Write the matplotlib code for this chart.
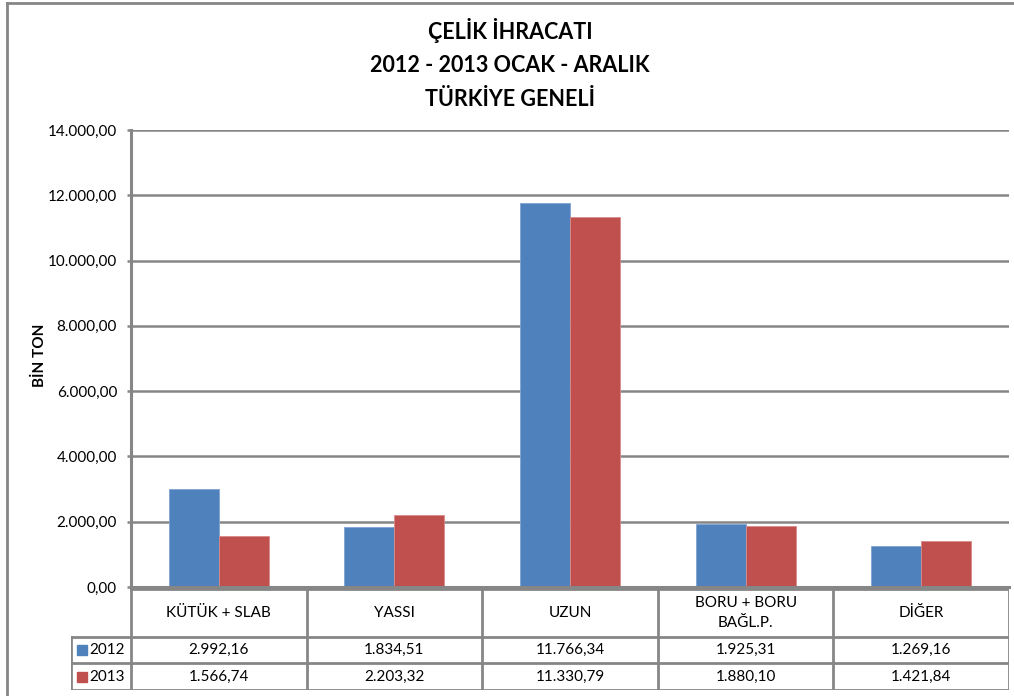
import numpy as np
import matplotlib
matplotlib.use("Agg")
import matplotlib.pyplot as plt
from matplotlib.ticker import FuncFormatter, MultipleLocator

plt.rcParams['font.family'] = ['Lato', 'DejaVu Sans']

categories = ["KÜTÜK + SLAB", "YASSI", "UZUN", "BORU + BORU\nBAĞL.P.", "DİĞER"]
series_names = ["2012", "2013"]
values_2012 = [2992.16, 1834.51, 11766.34, 1925.31, 1269.16]
values_2013 = [1566.74, 2203.32, 11330.79, 1880.10, 1421.84]
colors = ["#4F81BD", "#C0504D"]

title = "ÇELİK İHRACATI\n2012 - 2013 OCAK - ARALIK\nTÜRKİYE GENELİ"
ylabel = "BİN TON"

W, H = 1014, 696
grey = "#868686"
fs = 11


def tr_fmt(v, pos=None):
    s = f"{v:,.2f}"
    return s.replace(",", "X").replace(".", ",").replace("X", ".")


def fx(px):
    return px / W


def fy(py):
    return 1 - py / H


fig = plt.figure(figsize=(W / 100, H / 100), dpi=100)

# outer chart border (left and top visible)
fig.add_artist(plt.Line2D([fx(7), fx(7)], [fy(3), fy(H)], color=grey, lw=2))
fig.add_artist(plt.Line2D([fx(7), fx(W)], [fy(3), fy(3)], color=grey, lw=2))

# plot area
x0, x1, y0, y1 = 131, 1009, 130, 587
ax = fig.add_axes([fx(x0), fy(y1), fx(x1 - x0), fy(y0) - fy(y1)])
n = len(categories)
x = np.arange(n)
bw = 50 / 175.6
ax.bar(x - bw / 2, values_2012, bw, color=colors[0], edgecolor="#7FA3D0", lw=0.6, zorder=3)
ax.bar(x + bw / 2, values_2013, bw, color=colors[1], edgecolor="#D98B89", lw=0.6, zorder=3)
ax.set_xlim(-0.5, n - 0.5)
ax.set_ylim(0, 14000)
ax.yaxis.set_major_locator(MultipleLocator(2000))
ax.yaxis.set_major_formatter(FuncFormatter(tr_fmt))
ax.grid(axis='y', color=grey, lw=1.8, zorder=0)
ax.set_xticks([])
for s in ["top", "right"]:
    ax.spines[s].set_visible(False)
for s in ["left", "bottom"]:
    ax.spines[s].set_color(grey)
    ax.spines[s].set_linewidth(2.2)
    ax.spines[s].set_zorder(4)
ax.tick_params(axis='y', colors=grey, length=3, width=1.8, labelsize=fs,
               labelcolor="black", pad=7)

fig.text(fx(40), fy(355), ylabel, rotation=90, ha='center', va='center',
         fontsize=fs, fontweight='bold')
fig.text(0.503, fy(64), title, ha='center', va='center', fontsize=15.5,
         fontweight='bold', linespacing=1.75)

# data table below the plot
tx0, ty0, ty1 = 71, 589, 690
tax = fig.add_axes([fx(tx0), fy(ty1), fx(x1 - tx0), fy(ty0) - fy(ty1)])
left = -0.5 - (x0 - tx0) / 175.6
tax.set_xlim(left, n - 0.5)
tax.set_ylim(ty1, ty0)
tax.axis('off')
rows = [ty0, 637, 663, ty1]
lk = dict(color=grey, lw=2, solid_capstyle='projecting')
# horizontal lines
tax.plot([-0.5, n - 0.5], [rows[0], rows[0]], **lk)
for r in rows[1:]:
    tax.plot([left, n - 0.5], [r, r], **lk)
# vertical lines
tax.plot([left, left], [rows[1], rows[3]], **lk)
for i in range(n + 1):
    tax.plot([i - 0.5, i - 0.5], [rows[0], rows[3]], **lk)

for i, c in enumerate(categories):
    tax.text(i, (rows[0] + rows[1]) / 2, c, ha='center', va='center',
             fontsize=fs, linespacing=1.6)
for r, (name, vals, col) in enumerate(zip(series_names, [values_2012, values_2013], colors)):
    yc = (rows[r + 1] + rows[r + 2]) / 2
    tax.plot([left + 11 / 175.6], [yc], marker='s', ms=6.5, color=col, mec=col)
    tax.text(left + 18 / 175.6, yc, name, ha='left', va='center', fontsize=fs)
    for i, v in enumerate(vals):
        tax.text(i, yc, tr_fmt(v), ha='center', va='center', fontsize=fs)

fig.savefig("out.png", dpi=100)
